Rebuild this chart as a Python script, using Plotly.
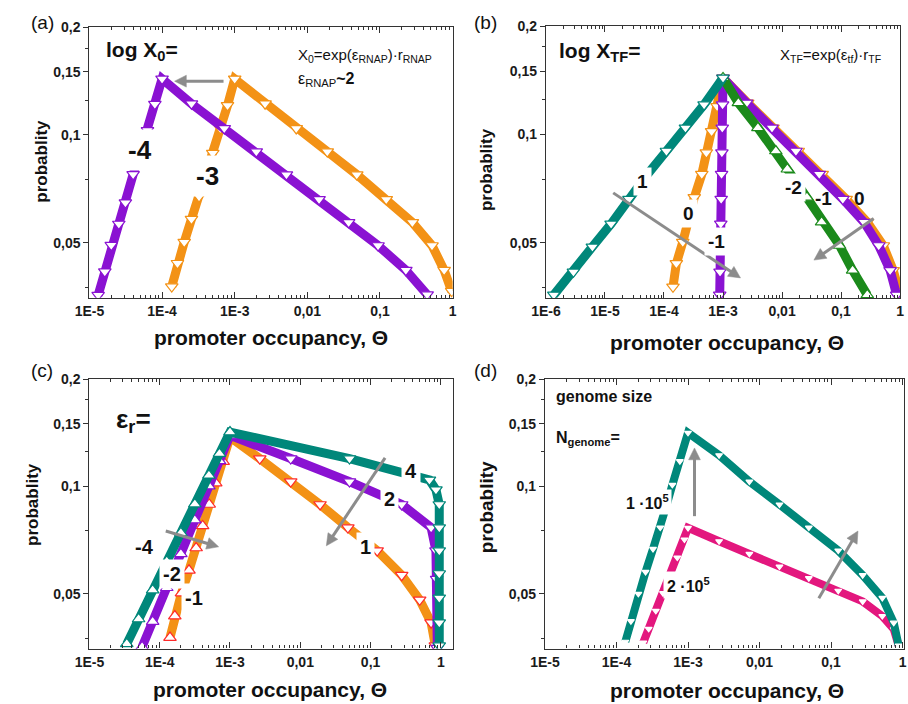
import plotly.graph_objects as go
import math

# ---------------- data ----------------
# Panel (a): log X0 = -4 (purple), -3 (orange)
A_M4_L_THETA = [1.32e-5, 1.63e-5, 2.0e-5, 2.54e-5, 3.13e-5, 4.0e-5, 5.0e-5, 6.3e-5, 7.96e-5, 1.0e-4]
A_M4_L_P = [0.0357, 0.0415, 0.0492, 0.0564, 0.0647, 0.0776, 0.0893, 0.103, 0.122, 0.1435]
A_M4_R_THETA = [1.0e-4, 2.54e-4, 7.18e-4, 1.98e-3, 5.15e-3, 0.0145, 0.037, 0.094, 0.227, 0.446]
A_M4_R_P = [0.1435, 0.1223, 0.1043, 0.0899, 0.0775, 0.0661, 0.0570, 0.0491, 0.0419, 0.0358]
A_M3_L_THETA = [1.36e-4, 1.63e-4, 2.02e-4, 2.54e-4, 3.23e-4, 3.98e-4, 4.99e-4, 6.34e-4, 7.96e-4, 1.0e-3]
A_M3_L_P = [0.0377, 0.0438, 0.0502, 0.0582, 0.0673, 0.077, 0.089, 0.1043, 0.121, 0.1434]
A_M3_R_THETA = [1.0e-3, 2.62e-3, 7.03e-3, 0.0188, 0.0479, 0.122, 0.279, 0.52, 0.764, 0.969]
A_M3_R_P = [0.1434, 0.1223, 0.1043, 0.0899, 0.0775, 0.0661, 0.0570, 0.0491, 0.0419, 0.0366]

# Panel (b): log X_TF
B_P1_L_THETA = [1.36e-6, 2.92e-6, 6.12e-6, 1.27e-5, 2.55e-5, 5.0e-5, 1.1e-4, 2.31e-4, 4.78e-4, 1.0e-3]
B_P1_L_P = [0.0358, 0.0415, 0.0487, 0.0564, 0.0661, 0.0767, 0.0899, 0.1043, 0.121, 0.1435]
B_0_L_THETA = [1.42e-4, 1.62e-4, 2.08e-4, 2.51e-4, 3.26e-4, 4.37e-4, 5.22e-4, 6.4e-4, 7.94e-4, 1.0e-3]
B_0_L_P = [0.0377, 0.0438, 0.0502, 0.0582, 0.0668, 0.0775, 0.089, 0.102, 0.1197, 0.1435]
B_0_R_THETA = [1.0e-3, 2.62e-3, 7.03e-3, 0.0188, 0.0479, 0.122, 0.279, 0.52, 0.764, 0.969]
B_0_R_P = [0.1435, 0.1223, 0.1043, 0.0899, 0.0775, 0.0661, 0.0570, 0.0491, 0.0419, 0.0366]
B_M1_L_THETA = [8.79e-4, 8.91e-4, 9.05e-4, 9.17e-4, 9.31e-4, 9.45e-4, 9.57e-4, 9.71e-4, 9.84e-4, 1.0e-3]
B_M1_L_P = [0.0358, 0.0415, 0.0487, 0.0564, 0.0661, 0.0775, 0.089, 0.1043, 0.121, 0.1435]
B_M1_R_THETA = [1.0e-3, 2.51e-3, 6.76e-3, 0.0172, 0.0427, 0.107, 0.245, 0.435, 0.678, 0.875]
B_M1_R_P = [0.1435, 0.1223, 0.1043, 0.0899, 0.0775, 0.0661, 0.0570, 0.0491, 0.0419, 0.0358]
B_M2_R_THETA = [1.0e-3, 1.82e-3, 3.9e-3, 7.85e-3, 0.0123, 0.0178, 0.0264, 0.0468, 0.0942, 0.157, 0.278]
B_M2_R_P = [0.1435, 0.1223, 0.1043, 0.0899, 0.080, 0.0733, 0.0668, 0.0570, 0.0491, 0.0419, 0.0358]

# Panel (c): epsilon_r = 4 (teal), 2 (purple), 1 (orange)
C_4_L_THETA = [3.4e-5, 5.01e-5, 7.94e-5, 1.26e-4, 2.0e-4, 3.16e-4, 5.01e-4, 7.08e-4, 1.0e-3]
C_4_L_P = [0.0362, 0.0425, 0.0512, 0.0616, 0.0741, 0.0892, 0.1074, 0.1236, 0.142]
C_4_R_THETA = [1.0e-3, 0.0501, 0.687, 0.851, 0.948, 0.948, 0.948, 0.948, 0.948, 0.948, 0.948]
C_4_R_P = [0.142, 0.1197, 0.1043, 0.0979, 0.089, 0.0767, 0.0661, 0.057, 0.0487, 0.0415, 0.0358]
C_2_L_THETA = [5.62e-5, 7.94e-5, 1.26e-4, 2.0e-4, 3.16e-4, 5.01e-4, 7.08e-4, 1.0e-3]
C_2_L_P = [0.0355, 0.0418, 0.052, 0.0647, 0.0805, 0.1002, 0.118, 0.139]
C_2_R_THETA = [1.0e-3, 7.31e-3, 0.0501, 0.277, 0.726, 0.851, 0.87, 0.89]
C_2_R_P = [0.139, 0.1197, 0.1032, 0.089, 0.0767, 0.0661, 0.055, 0.0352]
C_1_L_THETA = [1.4e-4, 1.64e-4, 2.04e-4, 2.61e-4, 3.3e-4, 4.08e-4, 5.06e-4, 6.27e-4, 8.0e-4, 1.0e-3]
C_1_L_P = [0.0377, 0.0433, 0.0502, 0.0582, 0.0672, 0.0775, 0.089, 0.1021, 0.1173, 0.1375]
C_1_R_THETA = [1.0e-3, 2.65e-3, 7.31e-3, 0.0191, 0.0475, 0.124, 0.277, 0.499, 0.726, 0.834]
C_1_R_P = [0.1375, 0.1197, 0.1032, 0.089, 0.0767, 0.0661, 0.0564, 0.0481, 0.0415, 0.0358]

# Panel (d): N_genome = 1e5 (teal), 2e5 (pink)
D_1_L_THETA = [1.33e-4, 1.59e-4, 2.02e-4, 2.55e-4, 3.24e-4, 4.09e-4, 5.01e-4, 6.04e-4, 7.69e-4, 1.0e-3]
D_1_L_P = [0.0367, 0.0419, 0.050, 0.0576, 0.0668, 0.0767, 0.0885, 0.101, 0.1177, 0.1413]
D_1_R_THETA = [1.0e-3, 2.72e-3, 7.21e-3, 0.019, 0.0489, 0.126, 0.277, 0.521, 0.753, 0.881]
D_1_R_P = [0.1413, 0.1223, 0.1032, 0.089, 0.0767, 0.0661, 0.0564, 0.0487, 0.0415, 0.0358]
D_2_L_THETA = [2.37e-4, 2.82e-4, 3.55e-4, 4.47e-4, 5.62e-4, 7.08e-4, 8.91e-4, 1.0e-3]
D_2_L_P = [0.0365, 0.0399, 0.0448, 0.0502, 0.0563, 0.0632, 0.071, 0.0765]
D_2_R_THETA = [1.0e-3, 2.72e-3, 7.21e-3, 0.019, 0.0489, 0.126, 0.277, 0.521, 0.753, 0.881]
D_2_R_P = [0.0765, 0.0702, 0.0647, 0.0596, 0.0553, 0.0510, 0.0476, 0.0433, 0.0398, 0.0358]

X_TICKVALS = [1e-6, 1e-5, 1e-4, 1e-3, 0.01, 0.1, 1]
X_TICKTEXT = ["1E-6", "1E-5", "1E-4", "1E-3", "0,01", "0,1", "1"]
Y_TICKVALS = [0.05, 0.1, 0.15, 0.2]
Y_TICKTEXT = ["0,05", "0,1", "0,15", "0,2"]
Y_MINOR = [0.0375, 0.075, 0.125, 0.175]
X_MINOR = [m * 10.0 ** e for e in range(-7, 1) for m in range(2, 10)]

# ---------------- styling ----------------
PURPLE = "#8a12d2"
ORANGE = "#f39216"
TEAL = "#00877a"
GREEN = "#1b8a1b"
PINK = "#e3177e"
RED = "#ff2b2b"
GRAY = "#8c8c8c"
FONT = "Liberation Sans, Arial, sans-serif"
W, H = 908, 704


def px(x):
    return x / W


def py(y):
    return 1 - y / H


fig = go.Figure()


def curve(axn, lt, lp, rt, rp, color, lsym, rsym, mline=None, msize=11, lw=9, mfill="white"):
    th = list(lt) + list(rt[1:]) if rt else list(lt)
    pp = list(lp) + list(rp[1:]) if rt else list(lp)
    syms = [lsym] * len(lt) + ([rsym] * (len(rt) - 1) if rt else [])
    sfx = "" if axn == 1 else str(axn)
    fig.add_trace(go.Scatter(
        x=th, y=pp, mode="lines+markers",
        line=dict(color=color, width=lw),
        marker=dict(symbol=syms, size=msize, color=mfill,
                    line=dict(color=mline if mline else color, width=1.2)),
        xaxis="x" + sfx, yaxis="y" + sfx, showlegend=False, hoverinfo="x+y"))


# (a)
curve(1, A_M3_L_THETA, A_M3_L_P, A_M3_R_THETA, A_M3_R_P, ORANGE, "triangle-down", "triangle-down")
curve(1, A_M4_L_THETA, A_M4_L_P, A_M4_R_THETA, A_M4_R_P, PURPLE, "triangle-down", "triangle-down")
# (b)
curve(2, B_0_L_THETA, B_0_L_P, B_0_R_THETA, B_0_R_P, ORANGE, "triangle-down", "triangle-down")
curve(2, B_M1_L_THETA, B_M1_L_P, B_M1_R_THETA, B_M1_R_P, PURPLE, "triangle-down", "triangle-down")
curve(2, B_M2_R_THETA, B_M2_R_P, None, None, GREEN, "triangle-up", "triangle-up")
curve(2, B_P1_L_THETA, B_P1_L_P, None, None, TEAL, "triangle-down", "triangle-down")
# (c)
curve(3, C_1_L_THETA, C_1_L_P, C_1_R_THETA, C_1_R_P, ORANGE, "triangle-up", "triangle-down", mline=RED)
curve(3, C_2_L_THETA, C_2_L_P, C_2_R_THETA, C_2_R_P, PURPLE, "triangle-up", "triangle-down")
curve(3, C_4_L_THETA, C_4_L_P, C_4_R_THETA, C_4_R_P, TEAL, "triangle-up", "triangle-down")
# (d)
curve(4, D_2_L_THETA, D_2_L_P, D_2_R_THETA, D_2_R_P, PINK, "triangle-down", "triangle-down",
      mline="white", msize=6, lw=8)
curve(4, D_1_L_THETA, D_1_L_P, D_1_R_THETA, D_1_R_P, TEAL, "triangle-down", "triangle-down",
      mline="white", msize=6, lw=8)

tickfont = dict(family=FONT, size=14, color="#1a1a1a", weight="bold")
YR = [math.log10(0.0351), math.log10(0.2)]


def xaxis(domain, rng, anchor):
    return dict(type="log", domain=domain, range=rng, anchor=anchor,
                tickmode="array", tickvals=X_TICKVALS, ticktext=X_TICKTEXT,
                ticks="inside", ticklen=6, tickwidth=1.3, tickcolor="#333",
                mirror="allticks", showline=True, linecolor="#333", linewidth=1.3,
                minor=dict(ticks="inside", ticklen=3, tickmode="array", tickvals=X_MINOR,
                           tickcolor="#333", tickwidth=1, showgrid=False),
                showgrid=False, zeroline=False, tickfont=tickfont, fixedrange=True)


def yaxis(domain, anchor):
    return dict(type="log", domain=domain, range=YR, anchor=anchor,
                tickmode="array", tickvals=Y_TICKVALS, ticktext=Y_TICKTEXT,
                ticks="outside", ticklen=5, tickwidth=1.3, tickcolor="#333",
                mirror=True, showline=True, linecolor="#333", linewidth=1.3,
                minor=dict(ticks="outside", ticklen=3, tickmode="array", tickvals=Y_MINOR,
                           tickcolor="#333", tickwidth=1, showgrid=False),
                showgrid=False, zeroline=False, tickfont=tickfont, fixedrange=True)


def yright(over, anchor):
    return dict(type="log", range=YR, overlaying=over, anchor=anchor, side="right",
                tickmode="array", tickvals=Y_TICKVALS, showticklabels=False,
                ticks="inside", ticklen=5, tickwidth=1.3, tickcolor="#333",
                minor=dict(ticks="inside", ticklen=3, tickmode="array", tickvals=Y_MINOR,
                           tickcolor="#333", tickwidth=1, showgrid=False),
                showline=False, showgrid=False, zeroline=False, fixedrange=True)


yd_bot = [py(648), py(375.3)]
fig.update_layout(
    width=W, height=H, margin=dict(l=0, r=0, t=0, b=0),
    paper_bgcolor="white", plot_bgcolor="white",
    xaxis=xaxis([px(76), px(447)], [-5, 0], "y"),
    yaxis=yaxis([py(293), py(19.5)], "x"),
    xaxis2=xaxis([px(542.3), px(904)], [-6, 0], "y2"),
    yaxis2=yaxis([py(293.3), py(18.3)], "x2"),
    xaxis3=xaxis([px(76), px(447.7)], [-5, 0.177], "y3"),
    yaxis3=yaxis(yd_bot, "x3"),
    xaxis4=xaxis([px(541.3), 1.0], [-5, 0.02], "y4"),
    yaxis4=yaxis(yd_bot, "x4"),
    yaxis5=yright("y", "x"),
    yaxis6=yright("y3", "x3"),
)

ann = []
shapes = []


def text(t, x, y, size, bold=True, bg=None, pad=3, angle=0, xanchor="center"):
    d = dict(text=("<b>%s</b>" % t) if bold else t, x=px(x), y=py(y), xref="paper", yref="paper",
             showarrow=False, xanchor=xanchor, yanchor="middle", textangle=angle,
             font=dict(family=FONT, size=size, color="#111"))
    if bg:
        d.update(bgcolor=bg, borderpad=pad)
    ann.append(d)


def arrow(tx, ty, hx, hy, L=12.0, hw=6.0, lw=3):
    dx, dy = hx - tx, hy - ty
    n = math.hypot(dx, dy)
    ux, uy = dx / n, dy / n
    bx, by = hx - ux * L, hy - uy * L
    nx, ny = -uy, ux
    shapes.append(dict(type="line", xref="paper", yref="paper",
                       x0=px(tx), y0=py(ty), x1=px(bx + ux), y1=py(by + uy),
                       line=dict(color=GRAY, width=lw)))
    pts = [(hx, hy), (bx + nx * hw, by + ny * hw), (bx - nx * hw, by - ny * hw)]
    path = "M %f,%f L %f,%f L %f,%f Z" % tuple(v for p in pts for v in (px(p[0]), py(p[1])))
    shapes.append(dict(type="path", xref="paper", yref="paper", path=path,
                       fillcolor=GRAY, line=dict(color=GRAY, width=0.5)))


# panel letters
text("(a)", 28, 15, 19, bold=False)
text("(b)", 481, 15, 19, bold=False)
text("(c)", 28, 367, 19, bold=False)
text("(d)", 481, 367, 19, bold=False)

# axis titles
for (x, y) in [(261, 333), (727, 338), (260, 689), (727, 690)]:
    text("promoter occupancy, \u0398", x, y, 21)
for (x, y, s) in [(27, 155, 17), (481, 163, 17), (18, 502, 17), (481, 505, 19)]:
    text("probablity", x, y, s, angle=-90)

# (a)
text("log X<sub>0</sub>=", 130, 43, 21)
text("X<sub>0</sub>=exp(\u03b5<sub>RNAP</sub>)\u00b7r<sub>RNAP</sub>", 287, 48, 15, bold=False, xanchor="left")
ann.append(dict(text="\u03b5<sub>RNAP</sub><b>~2</b>", x=px(287), y=py(72), xref="paper", yref="paper",
                showarrow=False, xanchor="left", yanchor="middle",
                font=dict(family=FONT, size=16, color="#111")))
text("-4", 128, 144, 26, bg="white", pad=5)
text("-3", 197, 170, 26, bg="white", pad=5)
arrow(213, 74, 163, 74)

# (b)
text("log X<sub>TF</sub>=", 597, 45, 21)
text("X<sub>TF</sub>=exp(\u03b5<sub>tf</sub>)\u00b7r<sub>TF</sub>", 779, 48, 15, bold=False, xanchor="left")
text("1", 641, 175, 19, bg="white", pad=3)
text("0", 688, 208, 19, bg="white", pad=3)
text("-1", 716, 236, 19, bg="white", pad=3)
text("-2", 795, 182, 19, bg="white", pad=3)
text("-1", 826, 193, 19)
text("0", 863, 193, 19)
arrow(611, 187, 741, 273)
arrow(877, 213, 816, 255)

# (c)
text("\u03b5<sub>r</sub>=", 121, 417, 26)
text("-4", 132, 545, 20, bg="white", pad=3)
text("-2", 160, 572, 20, bg="white", pad=3)
text("-1", 183, 597, 20, bg="white", pad=3)
text("4", 404, 468, 20, bg="white", pad=3)
text("2", 383, 497, 20, bg="white", pad=3)
text("1", 358, 545, 20, bg="white", pad=3)
arrow(154, 529, 208, 545)
arrow(378, 455, 318, 544)

# (d)
text("genome size", 551, 393, 16, xanchor="left")
text("N<sub>genome</sub>=", 551, 435, 16, xanchor="left")
text("1 \u00b710<sup>5</sup>", 646, 500, 16, bg="white", pad=2)
text("2 \u00b710<sup>5</sup>", 688, 584, 16, bg="white", pad=3)
arrow(694, 514, 694, 445)
arrow(821, 597, 861, 529)

fig.update_layout(annotations=ann, shapes=shapes)
fig.write_html("out.html")
